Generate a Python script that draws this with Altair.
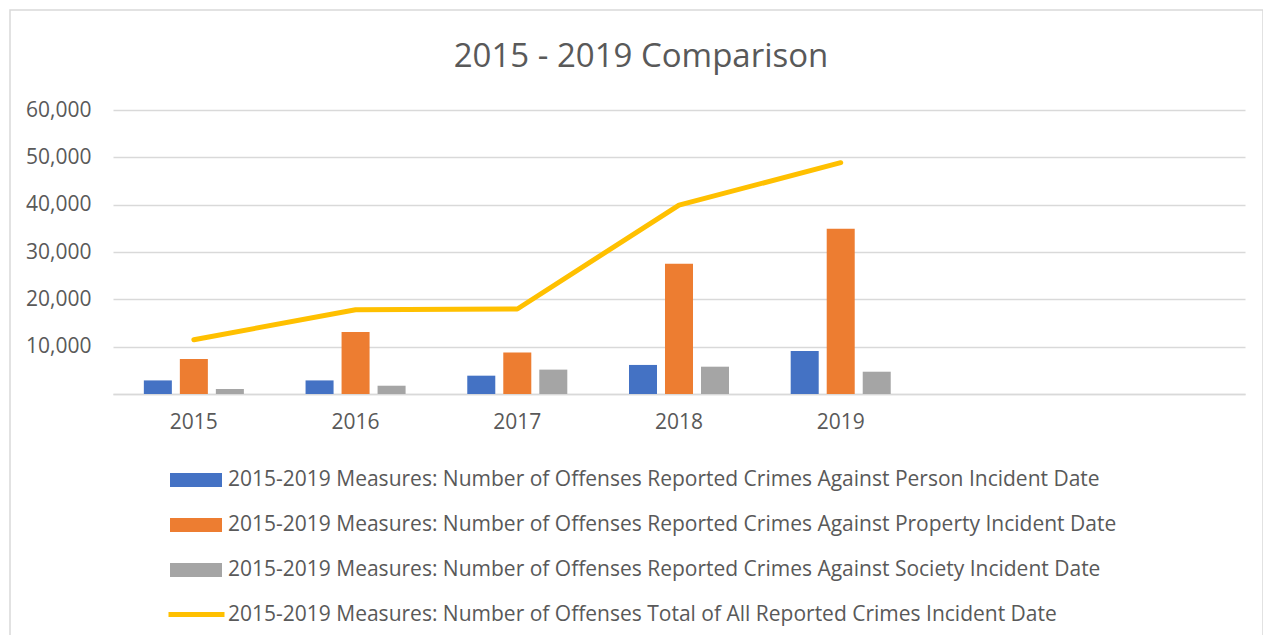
import altair as alt
import pandas as pd

# ---- data ----
years = ["2015", "2016", "2017", "2018", "2019"]
slots = years + [" ", "  "]  # two empty category slots on the right
series = [
    "2015-2019 Measures: Number of Offenses Reported Crimes Against Person Incident Date",
    "2015-2019 Measures: Number of Offenses Reported Crimes Against Property Incident Date",
    "2015-2019 Measures: Number of Offenses Reported Crimes Against Society Incident Date",
]
total_name = "2015-2019 Measures: Number of Offenses Total of All Reported Crimes Incident Date"
person = [2870, 2870, 3870, 6140, 9080]
prop = [7390, 13100, 8790, 27530, 34930]
society = [1060, 1750, 5150, 5770, 4710]
total = [11470, 17810, 17960, 39920, 48870]

bar_colors = ["#4472C4", "#ED7D31", "#A5A5A5"]
line_color = "#FFC000"
text_color = "#595959"
grid_color = "#D9D9D9"
FONT = "Open Sans"
FS = 21

rows = []
for name, vals in zip(series, [person, prop, society]):
    for y, v in zip(years, vals):
        rows.append({"year": y, "series": name, "value": v})
bar_df = pd.DataFrame(rows)
line_df = pd.DataFrame({"year": years, "series": total_name, "value": total})

x_scale = alt.Scale(domain=slots, paddingInner=0.332, paddingOuter=0.166)
y_scale = alt.Scale(domain=[0, 60000], nice=False)

bars = alt.Chart(bar_df).mark_bar().encode(
    x=alt.X(
        "year:N",
        scale=x_scale,
        sort=slots,
        title=None,
        axis=alt.Axis(
            labelAngle=0,
            labelFontSize=FS,
            labelFont=FONT,
            labelColor=text_color,
            labelPadding=17,
            ticks=False,
            domainColor=grid_color,
            domainWidth=1.5,
        ),
    ),
    xOffset=alt.XOffset(
        "series:N",
        sort=series,
        scale=alt.Scale(domain=series, paddingInner=0.222, paddingOuter=0.111),
    ),
    y=alt.Y(
        "value:Q",
        scale=y_scale,
        title=None,
        axis=alt.Axis(
            values=[0, 10000, 20000, 30000, 40000, 50000, 60000],
            format=",.0f",
            labelExpr="datum.value == 0 ? '' : datum.label",
            labelFontSize=FS,
            labelFont=FONT,
            labelColor=text_color,
            labelPadding=22,
            ticks=False,
            domain=False,
            gridColor=grid_color,
            gridWidth=1.5,
        ),
    ),
    fill=alt.Fill(
        "series:N",
        sort=series,
        scale=alt.Scale(domain=series, range=bar_colors),
        legend=alt.Legend(
            orient="none",
            legendX=57,
            legendY=344,
            direction="vertical",
            title=None,
            symbolType="M-1,-0.27L1,-0.27L1,0.27L-1,0.27Z",
            symbolSize=2704,
            symbolStrokeWidth=0,
            symbolOpacity=1,
            labelFontSize=FS,
            labelFont=FONT,
            labelColor=text_color,
            labelLimit=2000,
            labelOffset=6,
            rowPadding=9,
        ),
    ),
)

line = alt.Chart(line_df).mark_line(
    strokeWidth=5, strokeCap="round", strokeJoin="round"
).encode(
    x=alt.X("year:N", scale=x_scale, sort=slots),
    y=alt.Y("value:Q", scale=y_scale),
    stroke=alt.Stroke(
        "series:N",
        scale=alt.Scale(domain=[total_name], range=[line_color]),
        legend=alt.Legend(
            orient="none",
            legendX=53,
            legendY=474,
            title=None,
            symbolType="stroke",
            symbolSize=3136,
            symbolStrokeWidth=5,
            labelFontSize=FS,
            labelFont=FONT,
            labelColor=text_color,
            labelLimit=2000,
            labelOffset=1,
        ),
    ),
)

frame = alt.Chart(alt.Data(values=[{}])).mark_rect(
    fill=None, stroke=grid_color, strokeWidth=1.5
).encode(
    x=alt.value(-103), x2=alt.value(1150), y=alt.value(-100), y2=alt.value(560)
)

chart = alt.layer(frame, bars, line).resolve_legend(
    fill="independent", stroke="independent"
).properties(
    width=1132,
    height=284,
    padding={"left": 105, "top": 102, "right": 18, "bottom": 241},
    autosize=alt.AutoSizeParams(type="none"),
    title=alt.TitleParams(
        "2015 - 2019 Comparison",
        fontSize=33,
        font=FONT,
        fontWeight="normal",
        color=text_color,
        anchor="middle",
        dx=-38,
        offset=-65,
    ),
).configure_view(stroke=None)

chart.save("out.html", embed_options={"renderer": "svg", "actions": False})
